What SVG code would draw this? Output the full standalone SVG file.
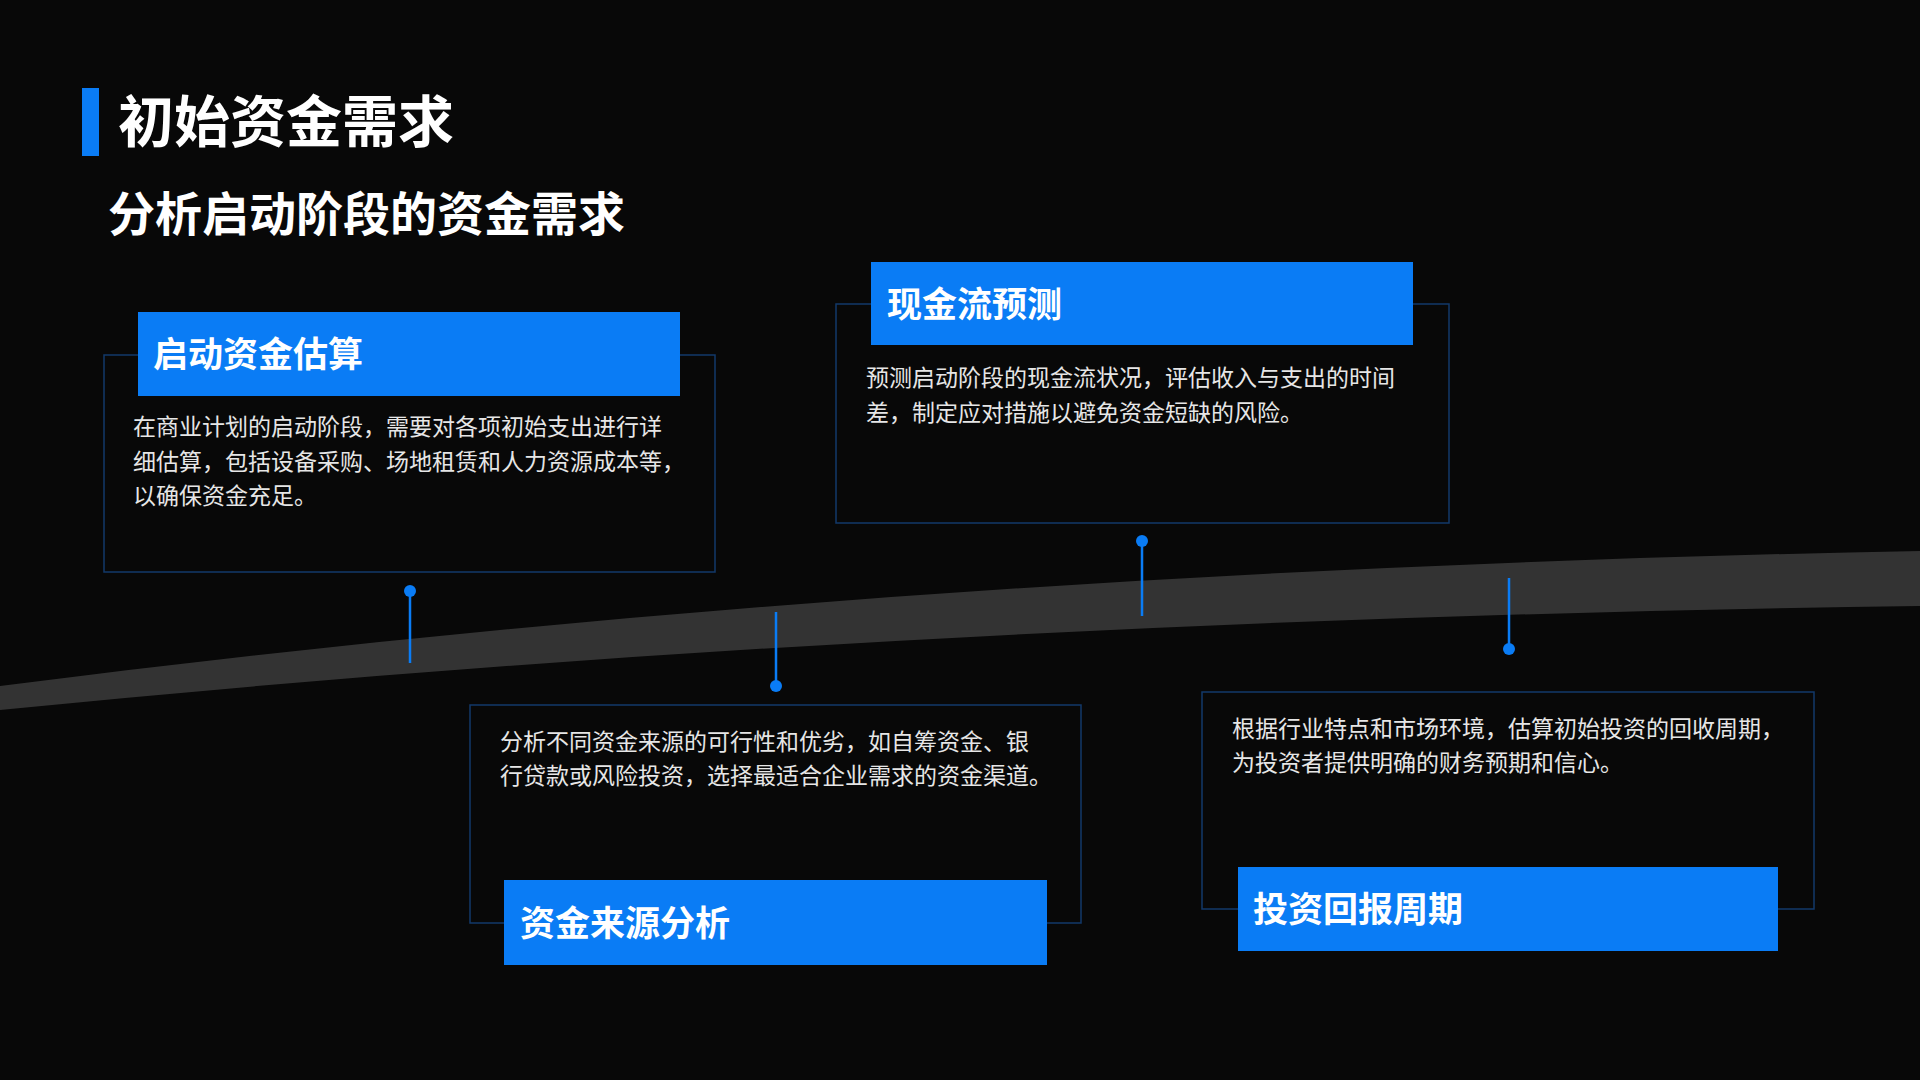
<svg xmlns="http://www.w3.org/2000/svg" width="1920" height="1080" viewBox="0 0 1920 1080">
<style>
.box{fill:none;stroke:#12396a;stroke-width:1.5}
.hdr{fill:#0a7cf5}
.ht{font-family:"Noto Sans CJK SC",sans-serif;font-weight:bold;font-size:35px;fill:#fff}
.bt{font-family:"Noto Sans CJK SC",sans-serif;font-size:23px;fill:#e6e6e6}
.pin{stroke:#0a7cf5;stroke-width:2.5}
.dot{fill:#0a7cf5}
</style>
<rect width="1920" height="1080" fill="#080808"/>
<path d="M0,686 Q900,570 1920,551 L1920,606 Q900,620 0,710 Z" fill="#333"/>
<rect x="82" y="88" width="17" height="68" fill="#0a7cf5"/>
<text x="118" y="142" font-family="Noto Sans CJK SC,sans-serif" font-weight="bold" font-size="56" fill="#fff">初始资金需求</text>
<text x="108" y="231" font-family="Noto Sans CJK SC,sans-serif" font-weight="bold" font-size="47" fill="#fff">分析启动阶段的资金需求</text>
<g id="connectors">
<line class="pin" x1="410" y1="591" x2="410" y2="663"/>
<circle class="dot" cx="410" cy="591" r="6"/>
<line class="pin" x1="1142" y1="541" x2="1142" y2="616"/>
<circle class="dot" cx="1142" cy="541" r="6"/>
<line class="pin" x1="776" y1="612" x2="776" y2="686"/>
<circle class="dot" cx="776" cy="686" r="6"/>
<line class="pin" x1="1509" y1="578" x2="1509" y2="649"/>
<circle class="dot" cx="1509" cy="649" r="6"/>
</g>
<g id="n1">
<rect class="box" x="104" y="355" width="611" height="217"/>
<rect class="hdr" x="138" y="312" width="542" height="84"/>
<text class="ht" x="153" y="367">启动资金估算</text>
<text class="bt" x="133" y="435">在商业计划的启动阶段，需要对各项初始支出进行详</text>
<text class="bt" x="133" y="470">细估算，包括设备采购、场地租赁和人力资源成本等，</text>
<text class="bt" x="133" y="504">以确保资金充足。</text>
</g>
<g id="n2">
<rect class="box" x="836" y="304" width="613" height="219"/>
<rect class="hdr" x="871" y="262" width="542" height="83"/>
<text class="ht" x="887" y="317">现金流预测</text>
<text class="bt" x="866" y="386">预测启动阶段的现金流状况，评估收入与支出的时间</text>
<text class="bt" x="866" y="421">差，制定应对措施以避免资金短缺的风险。</text>
</g>
<g id="n3">
<rect class="box" x="470" y="705" width="611" height="218"/>
<rect class="hdr" x="504" y="880" width="543" height="85"/>
<text class="ht" x="520" y="936">资金来源分析</text>
<text class="bt" x="500" y="750">分析不同资金来源的可行性和优劣，如自筹资金、银</text>
<text class="bt" x="500" y="784">行贷款或风险投资，选择最适合企业需求的资金渠道。</text>
</g>
<g id="n4">
<rect class="box" x="1202" y="692" width="612" height="217"/>
<rect class="hdr" x="1238" y="867" width="540" height="84"/>
<text class="ht" x="1253" y="922">投资回报周期</text>
<text class="bt" x="1232" y="737">根据行业特点和市场环境，估算初始投资的回收周期，</text>
<text class="bt" x="1232" y="771">为投资者提供明确的财务预期和信心。</text>
</g>
</svg>
